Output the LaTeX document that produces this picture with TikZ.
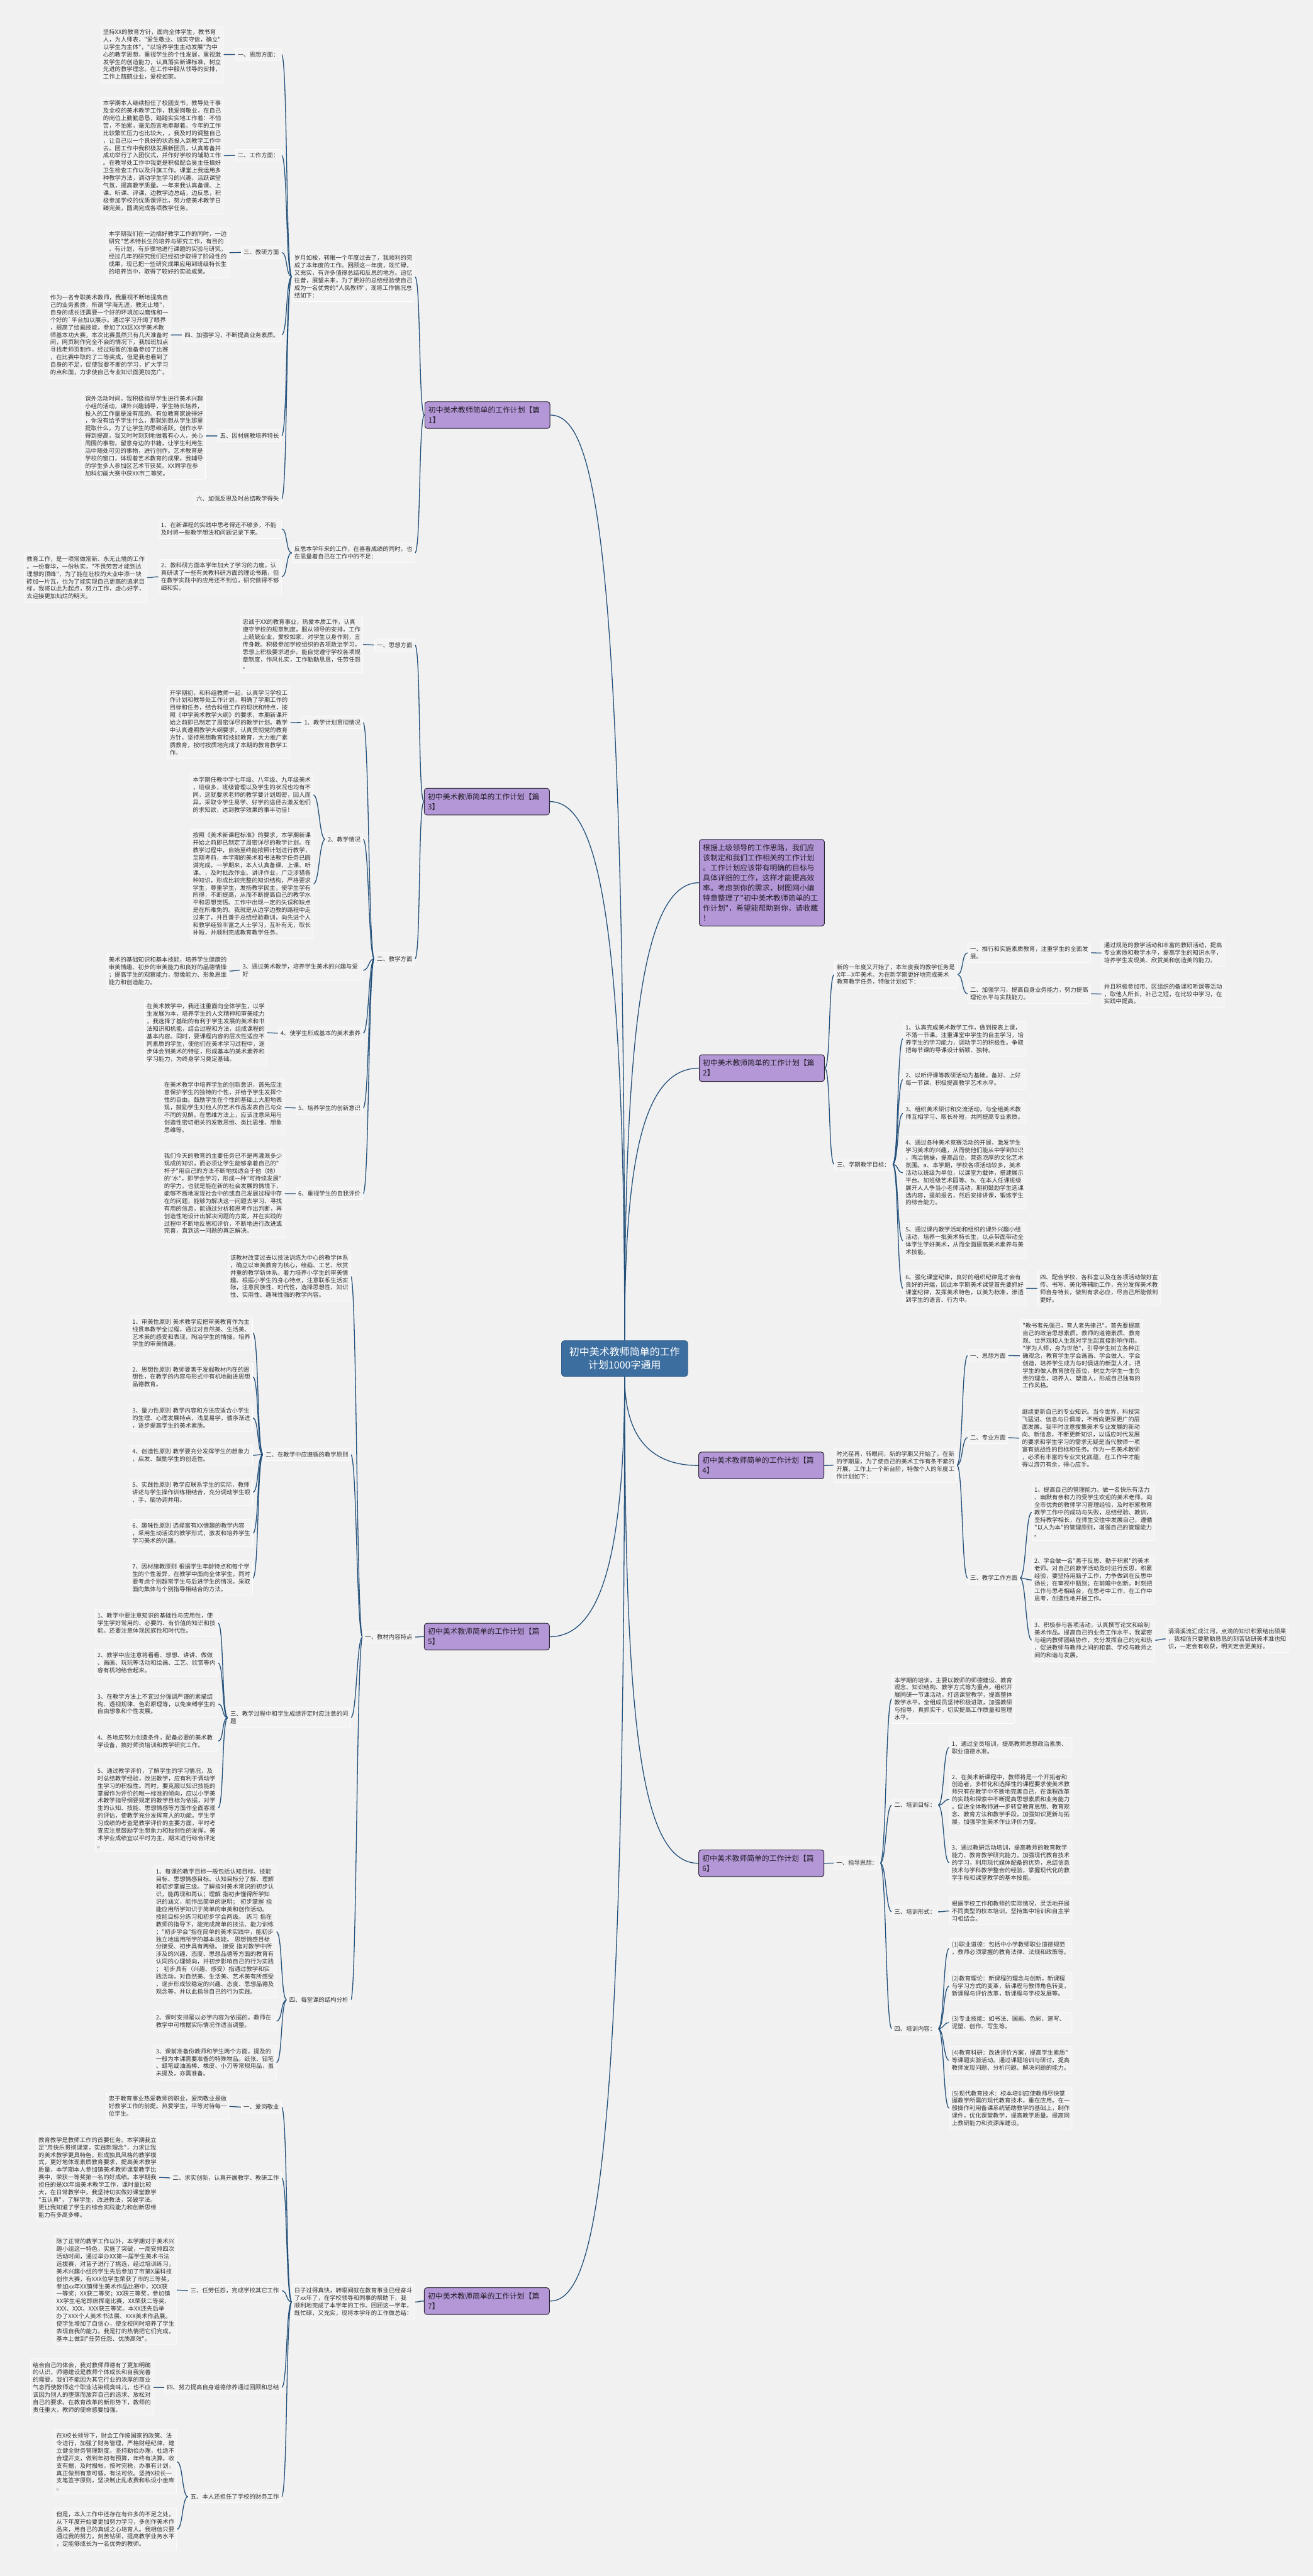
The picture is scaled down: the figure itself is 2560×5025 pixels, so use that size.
\documentclass[tikz,border=0pt]{standalone}
\usepackage{fontspec}
\newfontfamily\cjk{Noto Sans CJK SC}
\definecolor{bgc}{RGB}{241,241,241}
\definecolor{boxc}{RGB}{243,243,243}
\definecolor{txtc}{RGB}{51,51,51}
\definecolor{lnk}{RGB}{35,80,122}
\definecolor{purp}{RGB}{180,151,215}
\definecolor{pdark}{RGB}{40,34,48}
\definecolor{cblue}{RGB}{60,110,160}
\pgfdeclarelayer{back}
\pgfdeclarelayer{edges}
\pgfsetlayers{back,edges,main}
\tikzset{
  tbase/.style={font=\cjk\fontsize{11.5}{14.6}\selectfont, text=txtc, draw=white, line width=0.9pt, fill=boxc, rounded corners=3pt, inner xsep=4.5pt, inner ysep=6.5pt, align=left},
  tw/.style={tbase, text width=230pt},
  twL/.style={tw, anchor=north east},
  twR/.style={tw, anchor=north west},
  lbL/.style={tbase, anchor=north east},
  lbR/.style={tbase, anchor=north west},
  pp/.style={font=\cjk\fontsize{14.5}{19.6}\selectfont, text={rgb,255:red,34;green,30;blue,40}, fill=purp, draw=pdark, line width=1.2pt, rounded corners=5pt, inner xsep=7pt, inner ysep=9.5pt, text width=230pt, align=left},
  ppL/.style={pp, anchor=north east},
  ppR/.style={pp, anchor=north west},
  lk/.style={draw=lnk, line width=1.6pt},
}
\newcommand\LL[2]{\draw[lk] (#1.west) .. controls +(-12,0) and +(12,0) .. (#2.east);}
\newcommand\RR[2]{\draw[lk] (#1.east) .. controls +(12,0) and +(-12,0) .. (#2.west);}
\begin{document}
\begin{tikzpicture}[x=1pt,y=-1pt]
\useasboundingbox (0,0) rectangle (2560,5025);
\begin{pgfonlayer}{back}
\fill[bgc] (0,0) rectangle (2560,5025);
\end{pgfonlayer}

% ---------- centre ----------
\node[fill=cblue, draw={rgb,255:red,50;green,95;blue,140}, line width=1pt, rounded corners=5pt, text=white, font=\cjk\fontsize{19.6}{26}\selectfont, align=center, minimum width=246pt, inner ysep=12.7pt] (c) at (1218,2650) {初中美术教师简单的工作\\计划1000字通用};

% ---------- 篇1 ----------
\node[ppL] (p1) at (1073,783) {初中美术教师简单的工作计划【篇\\1】};
\node[twL] (a1) at (809,491) {岁月如梭，转眼一个年度过去了，我顺利的完\\成了本年度的工作。回顾这一年度，既忙碌，\\又充实，有许多值得总结和反思的地方。追忆\\往昔，展望未来，为了更好的总结经验使自己\\成为一名优秀的"人民教师"，现将工作情况总\\结如下：};
\node[twL] (r1) at (809,1059) {反思本学年来的工作，在喜看成绩的同时，也\\在思量着自己在工作中的不足：};
\node[lbL] (L1) at (549,94) {一、思想方面：};
\node[lbL] (L2) at (549,291) {二、工作方面：};
\node[lbL] (L3) at (549,480) {三、教研方面};
\node[lbL] (L4) at (549,641) {四、加强学习，不断提高业务素质。};
\node[lbL] (L5) at (549,838) {五、因材施教培养特长};
\node[lbL] (L6) at (549,961) {六、加强反思及时总结教学得失};
\node[twL] (T1) at (436,50) {坚持XX的教育方针，面向全体学生，教书育\\人，为人师表，"爱生敬业、诚实守信，确立"\\以学生为主体"，"以培养学生主动发展"为中\\心的教学思想，重视学生的个性发展，重视激\\发学生的创造能力，认真落实新课标准，树立\\先进的教学理念。在工作中服从领导的安排，\\工作上兢兢业业，爱校如家。};
\node[twL] (T2) at (436,189) {本学期本人继续担任了校团支书，教导处干事\\及全校的美术教学工作，我爱岗敬业，在自己\\的岗位上勤勤恳恳，踏踏实实地工作着：不怕\\苦，不怕累，毫无怨言地奉献着。今年的工作\\比较繁忙压力也比较大，，我及时的调整自己\\，让自己以一个良好的状态投入到教学工作中\\去。团工作中我积极发展新团员，认真筹备并\\成功举行了入团仪式，并作好学校的辅助工作\\。在教导处工作中我更是积极配合吴主任搞好\\卫生检查工作以及升旗工作。课堂上我运用多\\种教学方法，调动学生学习的兴趣，活跃课堂\\气氛，提高教学质量。一年来我认真备课、上\\课、听课、评课，边教学边总结，边反思，积\\极参加学校的优质课评比，努力使美术教学日\\臻完美，圆满完成各项教学任务。};
\node[twL] (T3) at (447,444) {本学期我们在一边搞好教学工作的同时，一边\\研究"艺术特长生的培养与研究工作，有目的\\，有计划，有步骤地进行课题的实验与研究，\\经过几年的研究我们已经初步取得了阶段性的\\成果，现已把一些研究成果应用到班级特长生\\的培养当中，取得了较好的实验成果。};
\node[twL] (T4) at (333,568) {作为一名专职美术教师，我重视不断地提高自\\己的业务素质，所谓"学海无涯，教无止境"，\\自身的成长还需要一个好的环境加以磨练和一\\个好的`平台加以展示。通过学习开阔了眼界\\，提高了绘画技能，参加了XX区XX学美术教\\师基本功大赛，本次比赛虽然只有几天准备时\\间，网页制作完全不会的情况下，我加班加点\\寻找老师页制作，经过短暂的准备参加了比赛\\，在比赛中取的了二等奖成，但是我也看到了\\自身的不足，促使我要不断的学习，扩大学习\\的点和面，力求使自己专业知识面更加宽广。};
\node[twL] (T5) at (401,765) {课外活动时间，我积极指导学生进行美术兴趣\\小组的活动，课外兴趣辅导，学生特长培养，\\投入的工作量是没有底的。有位教育家说得好\\，你没有给予学生什么，那就别想从学生那里\\提取什么。为了让学生的思维活跃，创作水平\\得到提高，我又时时刻刻地做着有心人，关心\\周围的事物，留意身边的书籍，让学生利用生\\活中随处可见的事物，进行创作。艺术教育是\\学校的窗口，体现着艺术教育的成果。我辅导\\的学生多人参加区艺术节获奖。XX同学在参\\加科幻画大赛中获XX市二等奖。};
\node[twL] (R1) at (549,1012) {1、在新课程的实践中思考得还不够多，不能\\及时将一些教学想法和问题记录下来。};
\node[twL] (R2) at (549,1091) {2、教科研方面本学年加大了学习的力度，认\\真研读了一些有关教科研方面的理论书籍，但\\在教学实践中的应用还不到位，研究做得不够\\细和实。};
\node[twL] (R2a) at (287,1078) {教育工作，是一项常做常新、永无止境的工作\\。一份春华，一份秋实，"不畏劳苦才能到达\\理想的顶峰"，为了能在壮校的大业中添一块\\砖加一片瓦，也为了能实现自己更高的追求目\\标，我将以此为起点，努力工作，虚心好学，\\去迎接更加灿烂的明天。};

% ---------- 篇3 ----------
\node[ppL] (p3) at (1072,1537) {初中美术教师简单的工作计划【篇\\3】};
\node[lbL] (M1) at (809,1246) {一、思想方面};
\node[twL] (M1t) at (708,1201) {忠诚于XX的教育事业，热爱本质工作，认真\\遵守学校的规章制度，服从领导的安排，工作\\上兢兢业业，爱校如家，对学生以身作则，言\\传身教。积极参加学校组织的各项政治学习，\\思想上积极要求进步。能自觉遵守学校各项规\\章制度，作风扎实，工作勤勤恳恳，任劳任怨\\。};
\node[lbL] (M2) at (809,1858) {二、教学方面};
\node[lbL] (N1) at (708,1397) {1、教学计划贯彻情况};
\node[twL] (N1t) at (566,1339) {开学期初，和科组教师一起，认真学习学校工\\作计划和教导处工作计划，明确了学期工作的\\目标和任务，结合科组工作的现状和特点，按\\照《中学美术教学大纲》的要求，本期新课开\\始之前即已制定了周密详尽的教学计划。教学\\中认真遵照教学大纲要求，认真贯彻党的教育\\方针，坚持思想教育和技能教育，大力推广素\\质教育，按时按质地完成了本期的教育教学工\\作。};
\node[lbL] (N2) at (708,1625) {2、教学情况};
\node[twL] (N2a) at (611,1509) {本学期任教中学七年级、八年级、九年级美术\\，班级多，班级管理以及学生的状况也均有不\\同，这就要求老师的教学要计划周密，因人而\\异，采取令学生易学、好学的途径去激发他们\\的求知欲，达到教学效果的事半功倍！};
\node[twL] (N2b) at (611,1617) {按照《美术新课程标准》的要求，本学期新课\\开始之前即已制定了周密详尽的教学计划。在\\教学过程中，自始至终能按照计划进行教学，\\至期考前，本学期的美术和书法教学任务已圆\\满完成。一学期来，本人认真备课、上课、听\\课、，及时批改作业、讲评作业，广泛涉猎各\\种知识，形成比较完整的知识结构，严格要求\\学生，尊重学生，发扬教学民主，使学生学有\\所得，不断提高，从而不断提高自己的教学水\\平和思想觉悟。工作中出现一定的失误和缺点\\是在所难免的。我就是从边学边教的路程中走\\过来了，并且善于总结经验教训，向先进个人\\和教学经验丰富之人士学习，互补有无，取长\\补短，并顺利完成教育教学任务。};
\node[twL] (N3) at (708,1873) {3、通过美术教学，培养学生美术的兴趣与爱\\好};
\node[twL] (N3t) at (447,1860) {美术的基础知识和基本技能，培养学生健康的\\审美情趣、初步的审美能力和良好的品德情操\\；提高学生的观察能力，想像能力、形象思维\\能力和创造能力。};
\node[lbL] (N4) at (708,2003) {4、使学生形成基本的美术素养};
\node[twL] (N4t) at (521,1951) {在美术教学中，我还注重面向全体学生，以学\\生发展为本，培养学生的人文精神和审美能力\\，我选择了基础的有利于学生发展的美术和书\\法知识和机能，结合过程和方法，组成课程的\\基本内容。同时，要课程内容的层次性适应不\\同素质的学生，使他们在美术学习过程中，逐\\步体会到美术的特征，形成基本的美术素养和\\学习能力，为终身学习奠定基础。};
\node[lbL] (N5) at (708,2149) {5、培养学生的创新意识};
\node[twL] (N5t) at (555,2104) {在美术教学中培养学生的创新意识，首先应注\\意保护学生的独特的个性，并给予学生发挥个\\性的自由。鼓励学生在个性的基础上大胆地表\\现，鼓励学生对他人的艺术作品发表自己与众\\不同的见解。在思维方法上，应该注意采用与\\创造性密切相关的发散思维、类比思维、想象\\思维等。};
\node[lbL] (N6) at (708,2316) {6、重视学生的自我评价};
\node[twL] (N6t) at (555,2243) {我们今天的教育的主要任务已不是再灌溉多少\\现成的知识，而必须让学生能够拿着自己的"\\杯子"用自己的方法不断地找适合于他（她）\\的"水"，即学会学习，形成一种"可持续发展"\\的学力。也就是能在新的社会发展的情境下，\\能够不断地发现社会中的或自己发展过程中存\\在的问题，能够为解决这一问题去学习、寻找\\有用的信息，能通过分析和思考作出判断，再\\创造性地设计出解决问题的方案，并在实践的\\过程中不断地反思和评价，不断地进行改进或\\完善，直到这一问题的真正解决。};

% ---------- 篇5 ----------
\node[ppL] (p5) at (1072,3166) {初中美术教师简单的工作计划【篇\\5】};
\node[lbL] (K1) at (809,3181) {一、教材内容特点};
\node[twL] (K1t) at (684,2441) {该教材改变过去以技法训练为中心的教学体系\\，确立以审美教育为核心，绘画、工艺、欣赏\\并重的教学新体系。着力培养小学生的审美情\\趣。根据小学生的身心特点，注意联系生活实\\际，注意民族性、时代性，选择思想性、知识\\性、实用性、趣味性强的教学内容。};
\node[lbL] (K2) at (684,2825) {二、在教学中应遵循的教学原则};
\node[twL] (Ka1) at (493,2566) {1、审美性原则~美术教学应把审美教育作为主\\线贯串教学全过程，通过对自然美、生活美、\\艺术美的感受和表现，陶冶学生的情操，培养\\学生的审美情趣。};
\node[twL] (Ka2) at (493,2659) {2、思想性原则~教师要善于发掘教材内在的思\\想性，在教学的内容与形式中有机地融进思想\\品德教育。};
\node[twL] (Ka3) at (493,2739) {3、量力性原则~教学内容和方法应适合小学生\\的生理、心理发展特点，浅显易学，循序渐进\\，逐步提高学生的美术素质。};
\node[twL] (Ka4) at (493,2819) {4、创造性原则~教学要充分发挥学生的想象力\\，启发、鼓励学生的创造性。};
\node[twL] (Ka5) at (493,2884) {5、实践性原则~教学应联系学生的实际，教师\\讲述与学生操作训练相结合，充分调动学生眼\\、手、脑协调并用。};
\node[twL] (Ka6) at (493,2964) {6、趣味性原则~选择富有XX情趣的教学内容\\，采用生动活泼的教学形式，激发和培养学生\\学习美术的兴趣。};
\node[twL] (Ka7) at (493,3044) {7、因材施教原则~根据学生年龄特点和每个学\\生的个性差异，在教学中面向全体学生，同时\\要考虑个别超常学生与后进学生的情况，采取\\面向集体与个别指导相结合的方法。};
\node[twL] (K3) at (684,3331) {三、教学过程中和学生成绩评定时应注意的问\\题};
\node[twL] (Kb1) at (425,3139) {1、教学中要注意知识的基础性与应用性，使\\学生学好常用的、必要的、有价值的知识和技\\能。还要注意体现民族性和时代性。};
\node[twL] (Kb2) at (425,3217) {2、教学中应注意将看看、想想、讲讲、做做\\、画画、玩玩等活动和绘画、工艺、欣赏等内\\容有机地结合起来。};
\node[twL] (Kb3) at (425,3297) {3、在教学方法上不宜过分强调严谨的素描结\\构、透视规律、色彩原理等，以免束缚学生的\\自由想象和个性发展。};
\node[twL] (Kb4) at (425,3377) {4、各地应努力创造条件，配备必要的美术教\\学设备，搞好师资培训和教学研究工作。};
\node[twL] (Kb5) at (425,3442) {5、通过教学评价，了解学生的学习情况，及\\时总结教学经验，改进教学，应有利于调动学\\生学习的积极性。同时，要克服以知识技能的\\掌握作为评价的唯一标准的倾向，应以小学美\\术教学指导纲要规定的教学目标为依据，对学\\生的认知、技能、思想情感等方面作全面客观\\的评估，使教学充分发挥育人的功能。学生学\\习成绩的考查是教学评价的主要方面，平时考\\查应注意鼓励学生想象力和独创性的发挥。美\\术学业成绩宜以平时为主，期末进行综合评定\\。};
\node[lbL] (K4) at (684,3889) {四、每堂课的结构分析};
\node[twL] (Kc1) at (539,3639) {1、每课的教学目标一般包括认知目标、技能\\目标、思想情感目标。认知目标分了解、理解\\和初步掌握三级。了解指对美术常识的初步认\\识，能再现和再认；理解~指初步懂得所学知\\识的涵义，能作出简单的说明；~初步掌握~指\\能应用所学知识于简单的审美和创作活动。\\技能目标分练习和初步学会两级。~练习~指在\\教师的指导下，能完成简单的技法、能力训练\\；"初步学会"指在简单的美术实践中，能初步\\独立地运用所学的基本技能。~思想情感目标\\分接受、初步具有两级。~接受~指对教学中所\\涉及的兴趣、态度、思想品德等方面的教育有\\认同的心理倾向，并初步影响自己的行为实践\\；~初步具有（兴趣、感受）指通过教学和实\\践活动，对自然美、生活美、艺术美有所感受\\，逐步形成较稳定的兴趣、态度、思想品德及\\观念等，并以此指导自己的行为实践。};
\node[twL] (Kc2) at (539,3923) {2、课时安排是以必学内容为依据的，教师在\\教学中可根据实际情况作适当调整。};
\node[twL] (Kc3) at (539,3989) {3、课前准备份教师和学生两个方面，提及的\\一般为本课需要准备的特殊物品。纸张、铅笔\\、蜡笔或油画棒、橡皮、小刀等常规用品，虽\\未提及，亦需准备。};

% ---------- 篇7 ----------
\node[ppL] (p7) at (1072,4462) {初中美术教师简单的工作计划【篇\\7】};
\node[twL] (J0) at (809,4456) {日子过得真快，转眼间就在教育事业已经奋斗\\了xx年了，在学校领导和同事的帮助下，我\\顺利地完成了本学年的工作。回顾这一学年，\\既忙碌，又充实，现将本学年的工作做总结：};
\node[lbL] (J1) at (549,4098) {一、爱岗敬业};
\node[twL] (J1t) at (447,4082) {忠于教育事业热爱教师的职业，爱岗敬业是做\\好教学工作的前提。热爱学生，平等对待每一\\位学生。};
\node[lbL] (J2) at (549,4236) {二、求实创新，认真开展教学、教研工作};
\node[twL] (J2t) at (310,4162) {教育教学是教师工作的首要任务。本学期我立\\足"用快乐贯彻课堂，实践新理念"，力求让我\\的美术教学更具特色，形成独具风格的教学模\\式，更好地体现素质教育要求，提高美术教学\\质量，本学期本人参加镇美术教师课堂教学比\\赛中，荣获一等奖第一名的好成绩。本学期我\\担任的是XX年级美术教学工作，课时量比较\\大，在日常教学中，我坚持切实做好课堂教学\\"五认真"，了解学生，改进教法，突破学法。\\更让我知道了学生的综合实践能力和创新思维\\能力有多高多棒。};
\node[lbL] (J3) at (549,4456) {三、任劳任怨，完成学校其它工作};
\node[twL] (J3t) at (345,4360) {除了正常的教学工作以外，本学期对于美术兴\\趣小组这一特色，实施了突破，一周安排四次\\活动时间，通过举办XX第一届学生美术书法\\选拔赛，对苗子进行了挑选，经过培训练习，\\美术兴趣小组的学生先后参加了市第X届科技\\创作大赛，有XXX位学生荣获了市的三等奖，\\参加xx年XX镇师生美术作品比赛中，XXX获\\一等奖；XX获二等奖；XX获三等奖，参加镇\\XX学生毛笔即席挥毫比赛，XX荣获二等奖、\\XXX、XXX、XXX获三等奖。本XX还先后举\\办了XXX个人美术书法展、XXX美术作品展。\\使学生增加了自信心，使全校同时培养了学生\\表现自我的能力。我是打的热情把它们完成，\\基本上做到"任劳任怨、优质高效"。};
\node[lbL] (J4) at (549,4645) {四、努力提高自身道德修养通过回顾和总结};
\node[twL] (J4t) at (299,4601) {结合自己的体会，我对教师师德有了更加明确\\的认识，师德建设是教师个体成长和自我完善\\的需要。我们不能因为其它行业的浓厚的商业\\气息而使教师这个职业沾染铜臭味儿，也不应\\该因为别人的堕落而放弃自己的追求、放松对\\自己的要求。在教育改革的新形势下，教师的\\责任重大，教师的使命感要加强。};
\node[lbL] (J5) at (549,4858) {五、本人还担任了学校的财务工作};
\node[twL] (J5a) at (345,4739) {在X校长领导下，财会工作按国家的政策、法\\令进行，加强了财务管理，严格财经纪律，建\\立健全财务管理制度。坚持勤俭办理，杜绝不\\合理开支，做到年初有预算，年终有决算。收\\支有据，及时报帐，按时完税，办事有计划，\\真正做到有章可循，有法可依。坚持X校长一\\支笔签字原则，坚决制止乱收费和私设小金库\\。};
\node[twL] (J5b) at (345,4892) {但是，本人工作中还存在有许多的不足之处，\\从下年度开始要更加努力学习，多创作美术作\\品来，用自己的真诚之心培育人。我相信只要\\通过我的努力，刻苦钻研，提高教学业务水平\\，定能够成长为一名优秀的教师。};

% ---------- right: intro ----------
\node[ppR] (I0) at (1363,1637) {根据上级领导的工作思路，我们应\\该制定和我们工作相关的工作计划\\。工作计划应该带有明确的目标与\\具体详细的工作，这样才能提高效\\率。考虑到你的需求，树图网小编\\特意整理了"初中美术教师简单的工\\作计划"，希望能帮助到你，请收藏\\！};

% ---------- 篇2 ----------
\node[ppR] (p2) at (1363,2057) {初中美术教师简单的工作计划【篇\\2】};
\node[twR] (Q0) at (1627,1874) {新的一年度又开始了，本年度我的教学任务是\\X年—X年美术。为在新学期更好地完成美术\\教育教学任务，特做计划如下：};
\node[twR] (Q1) at (1887,1839) {一、推行和实施素质教育，注重学生的全面发\\展。};
\node[twR] (Q1t) at (2148,1832) {通过规范的教学活动和丰富的教研活动，提高\\专业素质和教学水平，提高学生的知识水平，\\培养学生发现美、欣赏美和创造美的能力。};
\node[twR] (Q2) at (1887,1919) {二、加强学习，提高自身业务能力，努力提高\\理论水平与实践能力。};
\node[twR] (Q2t) at (2148,1912) {并且积极参加市、区组织的备课和听课等活动\\，取他人所长，补己之短，在比较中学习，在\\实践中提高。};
\node[lbR] (Q3) at (1627,2259) {三、学期教学目标：};
\node[twR] (Qi1) at (1761,1992) {1、认真完成美术教学工作，做到按表上课，\\不落一节课。注重课堂中学生的自主学习，培\\养学生的学习能力，调动学习的积极性。争取\\把每节课的导课设计新颖、独特。};
\node[twR] (Qi2) at (1761,2086) {2、以听评课等教研活动为基础，备好、上好\\每一节课，积极提高教学艺术水平。};
\node[twR] (Qi3) at (1761,2152) {3、组织美术研讨和交流活动，与全组美术教\\师互相学习、取长补短，共同提高专业素质。};
\node[twR] (Qi4) at (1761,2217) {4、通过各种美术竞赛活动的开展，激发学生\\学习美术的兴趣，从而使他们能从中学到知识\\，陶冶情操，提高品位，营造浓厚的文化艺术\\氛围。a、本学期，学校各项活动较多，美术\\活动以班级为单位，以课堂为载体，搭建展示\\平台。如班级艺术园等。b、在本人任课班级\\展开人人争当小老师活动，期初鼓励学生选课\\选内容，提前报名，然后安排讲课，锻炼学生\\的综合能力。};
\node[twR] (Qi5) at (1761,2386) {5、通过课内教学活动和组织的课外兴趣小组\\活动，培养一批美术特长生，以点带面带动全\\体学生学好美术，从而全面提高美术素养与美\\术技能。};
\node[twR] (Qi6) at (1761,2479) {6、强化课堂纪律，良好的组织纪律是才会有\\良好的开端，因此本学期美术课堂首先要抓好\\课堂纪律，发挥美术特色，以美为标准，渗透\\到学生的语言、行为中。};
\node[twR] (Q4) at (2023,2479) {四、配合学校、各科室以及在各项活动做好宣\\传、书写、美化等辅助工作，充分发挥美术教\\师自身特长，做到有求必应，尽自己所能做到\\更好。};

% ---------- 篇4 ----------
\node[ppR] (p4) at (1362,2832) {初中美术教师简单的工作计划【篇\\4】};
\node[twR] (W0) at (1626,2824) {时光荏苒，转眼间，新的学期又开始了。在新\\的学期里，为了使自己的美术工作有条不紊的\\开展，工作上一个新台阶，特做个人的年度工\\作计划如下：};
\node[lbR] (W1) at (1887,2632) {一、思想方面};
\node[twR] (W1t) at (1989,2574) {"教书者先强己，育人者先律己"。首先要提高\\自己的政治思想素质。教师的道德素质、教育\\观、世界观和人生观对学生起直接影响作用。\\"学为人师，身为世范"，引导学生树立各种正\\确观念，教育学生学会画画、学会做人、学会\\创造，培养学生成为与时俱进的新型人才。把\\学生的做人教育放在首位，树立为学生一生负\\责的理念，培养人、塑造人，形成自己独有的\\工作风格。};
\node[lbR] (W2) at (1887,2792) {二、专业方面};
\node[twR] (W2t) at (1988,2742) {继续更新自己的专业知识。当今世界，科技突\\飞猛进、信息与日俱增，不断向更深更广的层\\面发展。我平时注意搜集美术专业发展的新动\\向、新信息，不断更新知识，以适应时代发展\\的要求和学生学习的需求无疑是当代教师一项\\富有挑战性的目标和任务。作为一名美术教师\\，必须有丰富的专业文化底蕴，在工作中才能\\得以游刃有余，得心应手。};
\node[lbR] (W3) at (1887,3066) {三、教学工作方面};
\node[twR] (W3a) at (2012,2894) {1、提高自己的管理能力。做一名快乐有活力\\、幽默有亲和力的受学生欢迎的美术老师。向\\全市优秀的教师学习管理经验，及时积累教育\\教学工作中的成功与失败，总结经验、教训，\\坚持教学相长，在师生交往中发展自己，遵循\\"以人为本"的管理原则，增强自己的管理能力\\。};
\node[twR] (W3b) at (2012,3033) {2、学会做一名"善于反思、勤于积累"的美术\\老师。对自己的教学活动及时进行反思，积累\\经验，要坚持用脑子工作，力争做到在反思中\\扬长；在审视中甄别；在前瞻中创新。时刻把\\工作与思考相结合，在思考中工作，在工作中\\思考，创造性地开展工作。};
\node[twR] (W3c) at (2012,3158) {3、积极参与各项活动，认真撰写论文和绘制\\美术作品。提高自己的业务工作水平，我紧密\\与组内教师团结协作，充分发挥自己的光和热\\，促进教师与教师之间的和谐、学校与教师之\\间的和谐与发展。};
\node[twR] (W3d) at (2273,3170) {涓涓溪流汇成江河，点滴的知识积累结出硕果\\，我相信只要勤勤恳恳的刻苦钻研美术准也知\\识，一定会有收获，明天定会更美好。};

% ---------- 篇6 ----------
\node[ppR] (p6) at (1362,3608) {初中美术教师简单的工作计划【篇\\6】};
\node[lbR] (V1) at (1626,3622) {一、指导思想：};
\node[twR] (V1t) at (1739,3265) {本学期的培训，主要以教师的师德建设、教育\\观念、知识结构、教学方式等为重点，组织开\\展同研一节课活动，打造课堂教学，提高整体\\教学水平。全组成员坚持积极进取，加强教研\\与指导，真抓实干，切实提高工作质量和管理\\水平。};
\node[lbR] (V2) at (1739,3509) {二、培训目标：};
\node[twR] (V2a) at (1851,3389) {1、通过全员培训，提高教师思想政治素质、\\职业道德水准。};
\node[twR] (V2b) at (1851,3454) {2、在美术新课程中，教师将是一个开拓者和\\创造者，多样化和选择性的课程要求使美术教\\师只有在教学中不断地完善自己，在课程改革\\的实践和探索中不断提高思想素质和业务能力\\。促进全体教师进一步转变教育思想、教育观\\念、教育方法和教学手段，加强知识更新与拓\\展，加强学生美术作业评价力度。};
\node[twR] (V2c) at (1851,3592) {3、通过教研活动培训，提高教师的教育教学\\能力、教育教学研究能力，加强现代教育技术\\的学习，利用现代媒体配备的优势，总结信息\\技术与学科教学整合的经验，掌握现代化的教\\学手段和课堂教学的基本技能。};
\node[lbR] (V3) at (1739,3717) {三、培训形式：};
\node[twR] (V3t) at (1851,3701) {根据学校工作和教师的实际情况，灵活地开展\\不同类型的校本培训，坚持集中培训和自主学\\习相结合。};
\node[lbR] (V4) at (1739,3945) {四、培训内容：};
\node[twR] (V4a) at (1851,3781) {(1)职业道德：包括中小学教师职业道德规范\\，教师必须掌握的教育法律、法规和政策等。};
\node[twR] (V4b) at (1851,3847) {(2)教育理论：新课程的理念与创新，新课程\\与学习方式的变革，新课程与教师角色转变，\\新课程与评价改革，新课程与学校发展等。};
\node[twR] (V4c) at (1851,3926) {(3)专业技能：如书法、国画、色彩、速写、\\泥塑、创作、写生等。};
\node[twR] (V4d) at (1851,3992) {(4)教育科研：改进评价方案，提高学生素质"\\等课题实验活动。通过课题培训与研讨，提高\\教师发现问题、分析问题、解决问题的能力。};
\node[twR] (V4e) at (1851,4071) {(5)现代教育技术：校本培训应使教师尽快掌\\握教学所需的现代教育技术，重在应用。在一\\般操作利用备课系统辅助教学的基础上，制作\\课件，优化课堂教学，提高教学质量。提高网\\上教研能力和资源库建设。};

% ---------- connectors ----------
\begin{pgfonlayer}{edges}
\draw[lk] (c.north) .. controls +(0,-1550) and +(90,0) .. (p1.east);
\draw[lk] (c.north) .. controls +(0,-850) and +(90,0) .. (p3.east);
\draw[lk] (c.north) .. controls +(0,-600) and +(-110,0) .. (I0.west);
\draw[lk] (c.north) .. controls +(0,-350) and +(-110,0) .. (p2.west);
\draw[lk] (c.south) .. controls +(0,110) and +(-100,0) .. (p4.west);
\draw[lk] (c.south) .. controls +(0,700) and +(-110,0) .. (p6.west);
\draw[lk] (c.south) .. controls +(0,380) and +(90,0) .. (p5.east);
\draw[lk] (c.south) .. controls +(0,1550) and +(90,0) .. (p7.east);
% 篇1
\LL{p1}{a1} \LL{p1}{r1}
\foreach \n in {L1,L2,L3,L4,L5,L6} {\LL{a1}{\n}}
\LL{L1}{T1} \LL{L2}{T2} \LL{L3}{T3} \LL{L4}{T4} \LL{L5}{T5}
\LL{r1}{R1} \LL{r1}{R2} \LL{R2}{R2a}
% 篇3
\LL{p3}{M1} \LL{p3}{M2} \LL{M1}{M1t}
\foreach \n in {N1,N2,N3,N4,N5,N6} {\LL{M2}{\n}}
\LL{N1}{N1t} \LL{N2}{N2a} \LL{N2}{N2b} \LL{N3}{N3t} \LL{N4}{N4t} \LL{N5}{N5t} \LL{N6}{N6t}
% 篇5
\LL{p5}{K1}
\foreach \n in {K1t,K2,K3,K4} {\LL{K1}{\n}}
\foreach \n in {Ka1,Ka2,Ka3,Ka4,Ka5,Ka6,Ka7} {\LL{K2}{\n}}
\foreach \n in {Kb1,Kb2,Kb3,Kb4,Kb5} {\LL{K3}{\n}}
\foreach \n in {Kc1,Kc2,Kc3} {\LL{K4}{\n}}
% 篇7
\LL{p7}{J0}
\foreach \n in {J1,J2,J3,J4,J5} {\LL{J0}{\n}}
\LL{J1}{J1t} \LL{J2}{J2t} \LL{J3}{J3t} \LL{J4}{J4t} \LL{J5}{J5a} \LL{J5}{J5b}
% 篇2
\RR{p2}{Q0} \RR{p2}{Q3} \RR{Q0}{Q1} \RR{Q0}{Q2} \RR{Q1}{Q1t} \RR{Q2}{Q2t}
\foreach \n in {Qi1,Qi2,Qi3,Qi4,Qi5,Qi6} {\RR{Q3}{\n}}
\RR{Qi6}{Q4}
% 篇4
\RR{p4}{W0}
\foreach \n in {W1,W2,W3} {\RR{W0}{\n}}
\RR{W1}{W1t} \RR{W2}{W2t}
\foreach \n in {W3a,W3b,W3c} {\RR{W3}{\n}}
\RR{W3c}{W3d}
% 篇6
\RR{p6}{V1}
\foreach \n in {V1t,V2,V3,V4} {\RR{V1}{\n}}
\foreach \n in {V2a,V2b,V2c} {\RR{V2}{\n}}
\RR{V3}{V3t}
\foreach \n in {V4a,V4b,V4c,V4d,V4e} {\RR{V4}{\n}}
\end{pgfonlayer}
\end{tikzpicture}
\end{document}
